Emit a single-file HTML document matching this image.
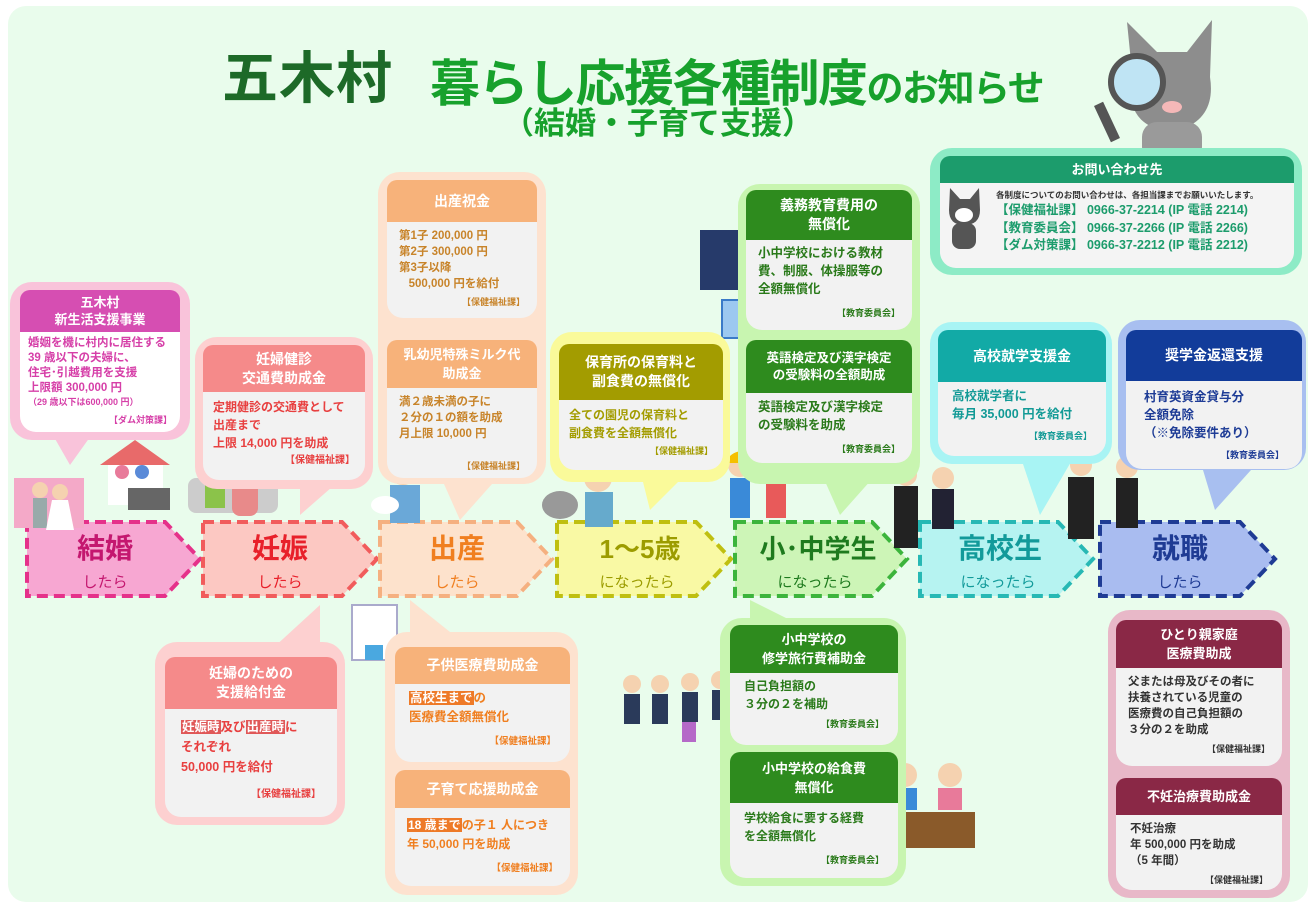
<!DOCTYPE html>
<html><head><meta charset="utf-8"><style>
*{margin:0;padding:0;box-sizing:border-box}
body{width:1316px;height:908px;background:#fff;position:relative;overflow:hidden;font-family:"Liberation Sans","Noto Sans CJK JP",sans-serif;font-weight:bold}
.a{position:absolute}
.o{position:absolute;border-radius:22px}
.h{position:absolute;color:#fff;text-align:center;font-size:14px;line-height:19px;display:flex;align-items:center;justify-content:center;border-radius:10px 10px 0 0}
.b{position:absolute;background:#f2f2f2;border-radius:0 0 16px 16px;font-size:12.5px;line-height:19px;padding:6px 10px}
.hl{color:#fff;padding:0 1px}
</style></head><body>
<div class="a" style="left:8px;top:6px;width:1300px;height:896px;background:#e9fcec;border-radius:18px"></div>

<!-- title -->
<div class="a" style="left:222px;top:34px;font-size:56px;color:#1d6a28;letter-spacing:1px;white-space:nowrap">五木村</div>
<div class="a" style="left:430px;top:44px;font-size:50px;color:#17a12c;white-space:nowrap;letter-spacing:-1.5px">暮らし応援各種制度<span style="font-size:37px">のお知らせ</span></div>
<div class="a" style="left:503px;top:98px;font-size:31px;color:#17a12c;white-space:nowrap">（結婚・子育て支援）</div>
<!-- cat -->
<svg class="a" style="left:1092px;top:12px" width="130" height="150"><path d="M40 60 L35 10 L65 40 L95 40 L120 8 L118 65 Q125 110 80 120 Q30 115 40 60Z" fill="#8d8d8d"/><rect x="50" y="110" width="60" height="40" rx="15" fill="#9a9a9a"/><circle cx="45" cy="70" r="26" fill="#bfe4f4" stroke="#555" stroke-width="6"/><rect x="10" y="90" width="10" height="40" fill="#555" transform="rotate(-25 15 110)"/><ellipse cx="80" cy="95" rx="10" ry="6" fill="#f5b8b8"/></svg>

<!-- contact -->
<div class="o" style="left:930px;top:148px;width:372px;height:127px;background:#8debc6"></div>
<div class="h" style="left:940px;top:156px;width:354px;height:27px;background:#1c9c6c;font-size:13px">お問い合わせ先</div>
<div class="b" style="left:940px;top:183px;width:354px;height:85px;background:#f4f4f4;padding:5px 10px 0 56px;font-size:12.5px;color:#1c9c6c;line-height:17.5px">
<div style="font-size:8.5px;color:#333;white-space:nowrap;line-height:14px">各制度についてのお問い合わせは、各担当課までお願いいたします。</div>
【保健福祉課】 0966-37-2214 (IP 電話 2214)<br>【教育委員会】 0966-37-2266 (IP 電話 2266)<br>【ダム対策課】 0966-37-2212 (IP 電話 2212)</div>
<svg class="a" style="left:944px;top:185px" width="40" height="65"><path d="M5 25 L6 3 L16 14 L26 14 L35 3 L36 25 Q36 40 20 40 Q5 40 5 25Z" fill="#555"/><ellipse cx="20" cy="30" rx="9" ry="7" fill="#fff"/><rect x="8" y="38" width="24" height="26" rx="8" fill="#555"/></svg>

<!-- chevrons -->
<svg class="a" style="left:0;top:0" width="1316" height="908">
<g stroke-width="4" stroke-dasharray="11 6">
<polygon points="27,522 165,522 200,559 165,596 27,596" fill="#f7a7d2" stroke="#e5318a"/>
<polygon points="203,522 342,522 377,559 342,596 203,596" fill="#fcc8c2" stroke="#f15c5c"/>
<polygon points="380,522 517,522 552,559 517,596 380,596" fill="#fde2cc" stroke="#f5b080"/>
<polygon points="557,522 696,522 731,559 696,596 557,596" fill="#f9f9a4" stroke="#bfbf10"/>
<polygon points="735,522 872,522 907,559 872,596 735,596" fill="#cdf5b7" stroke="#3cb43c"/>
<polygon points="920,522 1058,522 1093,559 1058,596 920,596" fill="#b6f3f1" stroke="#27b8b4"/>
<polygon points="1100,522 1240,522 1275,559 1240,596 1100,596" fill="#a9bcf0" stroke="#1f3b94"/>
</g>
<g font-family="Liberation Sans,Noto Sans CJK JP,sans-serif" font-weight="bold" text-anchor="middle">
<text x="105" y="558" font-size="28" fill="#c4176f">結婚</text><text x="105" y="587" font-size="15" fill="#c4176f" font-weight="normal">したら</text>
<text x="280" y="558" font-size="28" fill="#e8202a">妊娠</text><text x="280" y="587" font-size="15" fill="#e8202a" font-weight="normal">したら</text>
<text x="457" y="558" font-size="28" fill="#f07f20">出産</text><text x="457" y="587" font-size="15" fill="#f07f20" font-weight="normal">したら</text>
<text x="640" y="558" font-size="26" fill="#9c9c00">1～5歳</text><text x="637" y="587" font-size="15" fill="#9c9c00" font-weight="normal">になったら</text>
<text x="818" y="558" font-size="26" fill="#1e7a1e">小･中学生</text><text x="815" y="587" font-size="15" fill="#1e7a1e" font-weight="normal">になったら</text>
<text x="1000" y="558" font-size="28" fill="#129a9a">高校生</text><text x="998" y="587" font-size="15" fill="#129a9a" font-weight="normal">になったら</text>
<text x="1180" y="558" font-size="28" fill="#1f3b94">就職</text><text x="1180" y="587" font-size="15" fill="#1f3b94" font-weight="normal">したら</text>
</g>
<!-- tails -->
<polygon points="50,430 95,430 70,465" fill="#f9c3da"/>
<polygon points="300,480 340,480 300,515" fill="#fdd0d0"/>
<polygon points="440,475 500,475 460,520" fill="#fde2cf"/>
<polygon points="640,470 690,470 650,510" fill="#fafa9a"/>
<polygon points="820,470 880,470 840,515" fill="#c8f5b0"/>
<polygon points="1020,455 1075,455 1040,515" fill="#a8f4f4"/>
<polygon points="1200,460 1260,460 1215,510" fill="#a8bff0"/>
<polygon points="260,660 320,660 320,605" fill="#fdd0d0"/>
<polygon points="410,640 460,640 410,600" fill="#fde2cf"/>
<polygon points="750,625 800,625 750,600" fill="#c8f5b0"/>
<!-- figures -->
<g>
<rect x="14" y="478" width="70" height="50" fill="#f4a9c8"/><circle cx="40" cy="490" r="8" fill="#f5d2b0"/><rect x="33" y="498" width="14" height="30" fill="#9aa"/><circle cx="60" cy="492" r="8" fill="#f5d2b0"/><path d="M52 500 L68 500 L74 530 L46 530Z" fill="#fff"/>
<path d="M100 465 L135 440 L170 465Z" fill="#e86a6a"/><rect x="108" y="465" width="55" height="40" fill="#fff"/><rect x="128" y="488" width="42" height="22" fill="#666"/><circle cx="122" cy="472" r="7" fill="#e87a9a"/><circle cx="142" cy="472" r="7" fill="#5a8ad8"/>
<rect x="188" y="478" width="90" height="35" rx="8" fill="#ccc"/><circle cx="215" cy="468" r="10" fill="#f5d2b0"/><rect x="205" y="478" width="20" height="30" fill="#8bc34a"/><circle cx="245" cy="470" r="10" fill="#f5d2b0"/><rect x="232" y="480" width="26" height="36" rx="8" fill="#e88a8a"/>
<circle cx="403" cy="470" r="15" fill="#f5d2b0"/><rect x="390" y="485" width="30" height="38" fill="#6aa8d8"/><ellipse cx="385" cy="505" rx="14" ry="9" fill="#fff"/>
<ellipse cx="560" cy="505" rx="18" ry="14" fill="#999"/><circle cx="598" cy="478" r="14" fill="#f5d2b0"/><rect x="585" y="492" width="28" height="35" fill="#6ac"/>
<circle cx="740" cy="465" r="12" fill="#f5d2b0"/><path d="M724 463 Q740 440 756 463Z" fill="#f5c000"/><rect x="730" y="478" width="20" height="40" fill="#3a8ad8"/>
<circle cx="776" cy="465" r="12" fill="#f5d2b0"/><path d="M760 463 Q776 440 792 463Z" fill="#f5c000"/><rect x="766" y="478" width="20" height="40" fill="#e85a5a"/>
<circle cx="906" cy="475" r="11" fill="#f5d2b0"/><rect x="894" y="486" width="24" height="62" fill="#222"/>
<circle cx="943" cy="478" r="11" fill="#f5d2b0"/><rect x="932" y="489" width="22" height="40" fill="#223"/>
<circle cx="1081" cy="465" r="11" fill="#f5d2b0"/><rect x="1068" y="477" width="26" height="62" fill="#222"/>
<circle cx="1127" cy="467" r="11" fill="#f5d2b0"/><rect x="1116" y="478" width="22" height="50" fill="#222"/>
<rect x="352" y="605" width="45" height="55" fill="#fff" stroke="#aac" stroke-width="2"/><rect x="365" y="645" width="18" height="15" fill="#4aa8e0"/>
<rect x="700" y="230" width="55" height="60" fill="#263a6a"/>
<rect x="722" y="300" width="42" height="38" fill="#9cc8f0" stroke="#3a7ac8" stroke-width="2"/>
<circle cx="632" cy="684" r="9" fill="#f5d2b0"/><rect x="624" y="694" width="16" height="30" fill="#2a3a5a"/>
<circle cx="660" cy="684" r="9" fill="#f5d2b0"/><rect x="652" y="694" width="16" height="30" fill="#2a3a5a"/>
<circle cx="690" cy="682" r="9" fill="#f5d2b0"/><rect x="682" y="692" width="16" height="30" fill="#2a3a5a"/>
<circle cx="720" cy="680" r="9" fill="#f5d2b0"/><rect x="712" y="690" width="16" height="30" fill="#2a3a5a"/>
<rect x="748" y="720" width="14" height="22" fill="#8bc34a"/><rect x="682" y="722" width="14" height="20" fill="#b569c8"/>
<circle cx="905" cy="775" r="12" fill="#f5d2b0"/><rect x="893" y="788" width="24" height="22" fill="#3a8ad8"/>
<circle cx="950" cy="775" r="12" fill="#f5d2b0"/><rect x="938" y="788" width="24" height="22" fill="#e87a9a"/>
<rect x="885" y="812" width="90" height="36" fill="#8a5a2a"/>
</g>
</svg>

<!-- A -->
<div class="o" style="left:10px;top:282px;width:180px;height:158px;background:#f9c3da"></div>
<div class="h" style="left:20px;top:290px;width:160px;height:42px;background:#d64eb2;font-size:13px;line-height:17px">五木村<br>新生活支援事業</div>
<div class="b" style="left:20px;top:332px;width:160px;height:100px;background:#fff;color:#d63fa8;font-size:11.5px;line-height:15px;padding:4px 8px">婚姻を機に村内に居住する<br>39 歳以下の夫婦に、<br>住宅･引越費用を支援<br>上限額 300,000 円<div style="font-size:9px;line-height:13px">（29 歳以下は600,000 円）</div><div style="font-size:9px;text-align:right;margin-top:4px">【ダム対策課】</div></div>

<!-- B -->
<div class="o" style="left:195px;top:337px;width:178px;height:152px;background:#fdd0d0"></div>
<div class="h" style="left:203px;top:345px;width:162px;height:47px;background:#f58a8a">妊婦健診<br>交通費助成金</div>
<div class="b" style="left:203px;top:392px;width:162px;height:88px;color:#e84040;font-size:12px;line-height:18px">定期健診の交通費として<br>出産まで<br>上限 14,000 円を助成<div style="font-size:10px;text-align:right">【保健福祉課】</div></div>

<!-- C -->
<div class="o" style="left:378px;top:172px;width:168px;height:312px;background:#fde2cf"></div>
<div class="h" style="left:387px;top:180px;width:150px;height:42px;background:#f7b27a">出産祝金</div>
<div class="b" style="left:387px;top:222px;width:150px;height:96px;color:#c8842a;font-size:11.5px;line-height:16px;padding:6px 12px">第1子 200,000 円<br>第2子 300,000 円<br>第3子以降<br>&nbsp;&nbsp;&nbsp;500,000 円を給付<div style="font-size:9px;text-align:right;margin-top:2px">【保健福祉課】</div></div>
<div class="h" style="left:387px;top:340px;width:150px;height:48px;background:#f7b27a;font-size:13px">乳幼児特殊ミルク代<br>助成金</div>
<div class="b" style="left:387px;top:388px;width:150px;height:90px;color:#c8842a;font-size:11.5px;line-height:16px;padding:6px 12px">満２歳未満の子に<br>２分の１の額を助成<br>月上限 10,000 円<div style="font-size:9px;text-align:right;margin-top:16px">【保健福祉課】</div></div>

<!-- D -->
<div class="o" style="left:550px;top:332px;width:180px;height:150px;background:#fafa9a"></div>
<div class="h" style="left:559px;top:344px;width:164px;height:56px;background:#a39c00">保育所の保育料と<br>副食費の無償化</div>
<div class="b" style="left:559px;top:400px;width:164px;height:70px;color:#a39c00;font-size:12px;line-height:18px">全ての園児の保育料と<br>副食費を全額無償化<div style="font-size:9px;text-align:right">【保健福祉課】</div></div>

<!-- E -->
<div class="o" style="left:738px;top:184px;width:182px;height:300px;background:#c8f5b0"></div>
<div class="h" style="left:746px;top:190px;width:166px;height:50px;background:#2e8b1e">義務教育費用の<br>無償化</div>
<div class="b" style="left:746px;top:240px;width:166px;height:90px;color:#2a7a1a;font-size:12.5px;line-height:18px;padding:4px 12px">小中学校における教材<br>費、制服、体操服等の<br>全額無償化<div style="font-size:9px;text-align:right;margin-top:6px">【教育委員会】</div></div>
<div class="h" style="left:746px;top:340px;width:166px;height:53px;background:#2e8b1e;font-size:12.5px;line-height:17px">英語検定及び漢字検定<br>の受験料の全額助成</div>
<div class="b" style="left:746px;top:393px;width:166px;height:70px;color:#2a7a1a;font-size:12.5px;line-height:18px;padding:5px 12px">英語検定及び漢字検定<br>の受験料を助成<div style="font-size:9px;text-align:right;margin-top:6px">【教育委員会】</div></div>

<!-- F -->
<div class="o" style="left:930px;top:322px;width:182px;height:142px;background:#a8f4f4"></div>
<div class="h" style="left:938px;top:330px;width:168px;height:52px;background:#12aaa6;font-size:14px">高校就学支援金</div>
<div class="b" style="left:938px;top:382px;width:168px;height:74px;color:#129a96;font-size:12.5px;line-height:18px;padding:5px 14px">高校就学者に<br>毎月 35,000 円を給付<div style="font-size:9px;text-align:right;margin-top:4px">【教育委員会】</div></div>

<!-- G -->
<div class="o" style="left:1118px;top:320px;width:188px;height:150px;background:#a8bff0"></div>
<div class="h" style="left:1126px;top:330px;width:176px;height:51px;background:#123c9a;font-size:14px">奨学金返還支援</div>
<div class="b" style="left:1126px;top:381px;width:176px;height:88px;color:#1e3c96;font-size:12.5px;line-height:18px;padding:7px 18px">村育英資金貸与分<br>全額免除<br>（※免除要件あり）<div style="font-size:9px;text-align:right;margin-top:4px">【教育委員会】</div></div>

<!-- H -->
<div class="o" style="left:155px;top:642px;width:190px;height:183px;background:#fdd0d0"></div>
<div class="h" style="left:165px;top:657px;width:172px;height:52px;background:#f58a8a">妊婦のための<br>支援給付金</div>
<div class="b" style="left:165px;top:709px;width:172px;height:108px;color:#e84040;font-size:12.5px;line-height:20px;padding:8px 16px"><span class="hl" style="background:#e05858">妊娠時</span>及び<span class="hl" style="background:#e05858">出産時</span>に<br>それぞれ<br>50,000 円を給付<div style="font-size:10px;text-align:right;margin-top:8px">【保健福祉課】</div></div>

<!-- I -->
<div class="o" style="left:385px;top:632px;width:193px;height:263px;background:#fde2cf"></div>
<div class="h" style="left:395px;top:647px;width:175px;height:37px;background:#f7b27a">子供医療費助成金</div>
<div class="b" style="left:395px;top:684px;width:175px;height:78px;color:#f07f20;font-size:12.5px;line-height:19px;padding:5px 14px"><span class="hl" style="background:#ee7a28">高校生まで</span>の<br>医療費全額無償化<div style="font-size:9.5px;text-align:right;margin-top:5px">【保健福祉課】</div></div>
<div class="h" style="left:395px;top:770px;width:175px;height:38px;background:#f7b27a">子育て応援助成金</div>
<div class="b" style="left:395px;top:808px;width:175px;height:78px;color:#f07f20;font-size:12px;line-height:19px;padding:8px 12px;white-space:nowrap"><span class="hl" style="background:#ee7a28">18 歳まで</span>の子１ 人につき<br>年 50,000 円を助成<div style="font-size:9.5px;text-align:right;margin-top:5px">【保健福祉課】</div></div>

<!-- J -->
<div class="o" style="left:720px;top:618px;width:186px;height:268px;background:#c8f5b0"></div>
<div class="h" style="left:730px;top:625px;width:168px;height:48px;background:#2e8b1e;font-size:13px">小中学校の<br>修学旅行費補助金</div>
<div class="b" style="left:730px;top:673px;width:168px;height:72px;color:#2a7a1a;font-size:12px;line-height:18px;padding:4px 14px">自己負担額の<br>３分の２を補助<div style="font-size:9px;text-align:right;margin-top:2px">【教育委員会】</div></div>
<div class="h" style="left:730px;top:752px;width:168px;height:51px;background:#2e8b1e;font-size:13px">小中学校の給食費<br>無償化</div>
<div class="b" style="left:730px;top:803px;width:168px;height:75px;color:#2a7a1a;font-size:12px;line-height:18px;padding:6px 14px">学校給食に要する経費<br>を全額無償化<div style="font-size:9px;text-align:right;margin-top:6px">【教育委員会】</div></div>

<!-- K -->
<div class="o" style="left:1108px;top:610px;width:182px;height:288px;background:#e8b8c8"></div>
<div class="h" style="left:1116px;top:620px;width:166px;height:48px;background:#8a2846;font-size:13px">ひとり親家庭<br>医療費助成</div>
<div class="b" style="left:1116px;top:668px;width:166px;height:98px;color:#333;font-size:11.5px;line-height:16px;padding:6px 12px">父または母及びその者に<br>扶養されている児童の<br>医療費の自己負担額の<br>３分の２を助成<div style="font-size:9px;text-align:right;margin-top:3px">【保健福祉課】</div></div>
<div class="h" style="left:1116px;top:778px;width:166px;height:37px;background:#8a2846;font-size:13px">不妊治療費助成金</div>
<div class="b" style="left:1116px;top:815px;width:166px;height:75px;color:#333;font-size:11.5px;line-height:16px;padding:6px 14px">不妊治療<br>年 500,000 円を助成<br>（5 年間）<div style="font-size:9px;text-align:right;margin-top:3px">【保健福祉課】</div></div>
</body></html>
